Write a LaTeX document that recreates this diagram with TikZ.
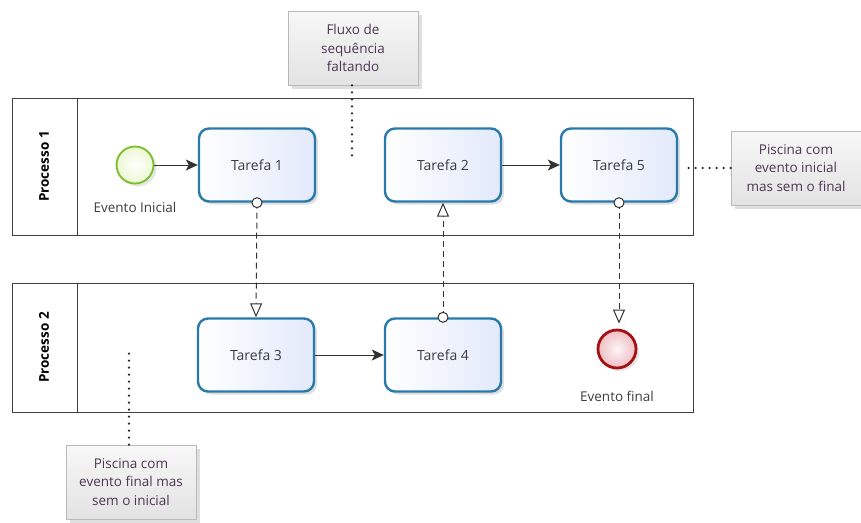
\documentclass[tikz,border=0pt]{standalone}
\usepackage{fontspec}
\setmainfont{Open Sans}
\usetikzlibrary{arrows.meta,shadows}
\definecolor{taskline}{RGB}{40,122,170}
\definecolor{taskfill}{RGB}{226,233,250}
\definecolor{startline}{RGB}{122,190,40}
\definecolor{startfill}{RGB}{236,248,210}
\definecolor{endline}{RGB}{165,18,22}
\definecolor{endfill}{RGB}{240,190,195}
\definecolor{txt}{RGB}{60,60,66}
\definecolor{notetxt}{RGB}{80,55,85}
\begin{document}
\begin{tikzpicture}[x=1pt,y=-1pt,
  font=\fontsize{13.5}{17}\selectfont, text=txt,
  pool/.style={draw=black!75, line width=1pt, minimum width=681pt, minimum height=137pt, inner sep=0pt},
  poollabel/.style={rotate=90, font=\fontsize{13.5}{15}\selectfont\bfseries, text=black},
  task/.style={draw=taskline, line width=2.4pt, rounded corners=10pt,
    shading=axis, shading angle=135, left color=white, right color=taskfill,
    minimum width=116pt, minimum height=73pt, font=\fontsize{14}{17}\selectfont,
    drop shadow={shadow xshift=3pt, shadow yshift=-3pt, opacity=0.25}},
  startev/.style={circle, draw=startline, line width=1.8pt, inner sep=0pt, minimum size=37pt,
    inner color=white, outer color=startfill,
    drop shadow={shadow xshift=3pt, shadow yshift=-3pt, opacity=0.2}},
  endev/.style={circle, draw=endline, line width=2.8pt, inner sep=0pt, minimum size=38pt,
    inner color=white!85!endfill, outer color=endfill,
    drop shadow={shadow xshift=3pt, shadow yshift=-3pt, opacity=0.2}},
  flow/.style={draw=black!80, line width=1pt, -{Stealth[length=12pt,width=11pt,inset=3pt]}},
  msg/.style={draw=black!80, line width=1pt, dash pattern=on 6pt off 4pt,
    -{Triangle[open,length=14pt,width=12pt,line width=1pt]}},
  msgdot/.style={circle, draw=black!80, line width=1pt, fill=white, inner sep=0pt, minimum size=10pt},
  note/.style={draw=gray!55, line width=0.8pt, top color=gray!6, bottom color=gray!22,
    minimum width=130pt, minimum height=74pt, align=center, text=notetxt,
    font=\fontsize{13.5}{18.5}\selectfont,
    drop shadow={shadow xshift=4pt, shadow yshift=-4pt, opacity=0.25}},
  assoc/.style={draw=black!85, line width=2.6pt, line cap=round, dash pattern=on 0pt off 7pt}
]
\useasboundingbox (0,0) rectangle (861,522);

% pools
\node[pool] (pool1) at (352.5,166.5) {};
\draw[black!75, line width=1pt] (77,98) -- (77,235);
\node[poollabel] (pl1) at (44,166.5) {Processo 1};
\node[pool, minimum height=129pt] (pool2) at (352.5,347.5) {};
\draw[black!75, line width=1pt] (77,283) -- (77,412);
\node[poollabel] (pl2) at (44,347.5) {Processo 2};

% events and tasks
\node[startev] (start) at (135,165) {};
\node (startlbl) at (135,207) {Evento Inicial};
\node[task] (t1) at (257,165) {Tarefa 1};
\node[task] (t2) at (443,165) {Tarefa 2};
\node[task] (t5) at (619,165) {Tarefa 5};
\node[task] (t3) at (256,355) {Tarefa 3};
\node[task] (t4) at (443,355) {Tarefa 4};
\node[endev] (endevt) at (617,349) {};
\node (endlbl) at (617,396) {Evento final};

% sequence flows
\draw[flow] (start) -- (t1);
\draw[flow] (t2) -- (t5);
\draw[flow] (t3) -- (t4);

% message flows
\draw[msg] (t1.south) -- (t3.north);
\node[msgdot] (d1) at (t1.south) {};
\draw[msg] (t4.north) -- (t2.south);
\node[msgdot] (d4) at (t4.north) {};
\draw[msg, shorten >=5pt] (t5.south) -- (t5.south |- endevt.north);
\node[msgdot] (d5) at (t5.south) {};

% annotations
\node[note] (n1) at (353,48) {Fluxo de\\sequência\\faltando};
\node[note] (n2) at (796,168) {Piscina com\\evento inicial\\mas sem o final};
\node[note] (n3) at (131,482) {Piscina com\\evento final mas\\sem o inicial};
\coordinate (n1end) at (352,160);
\coordinate (n2end) at (686,168);
\coordinate (n3end) at (129,350);
\draw[assoc] (n1.south -| n1end) -- (n1end);
\draw[assoc] (n2.west) -- (n2end);
\draw[assoc] (n3.north -| n3end) -- (n3end);
\end{tikzpicture}
\end{document}
